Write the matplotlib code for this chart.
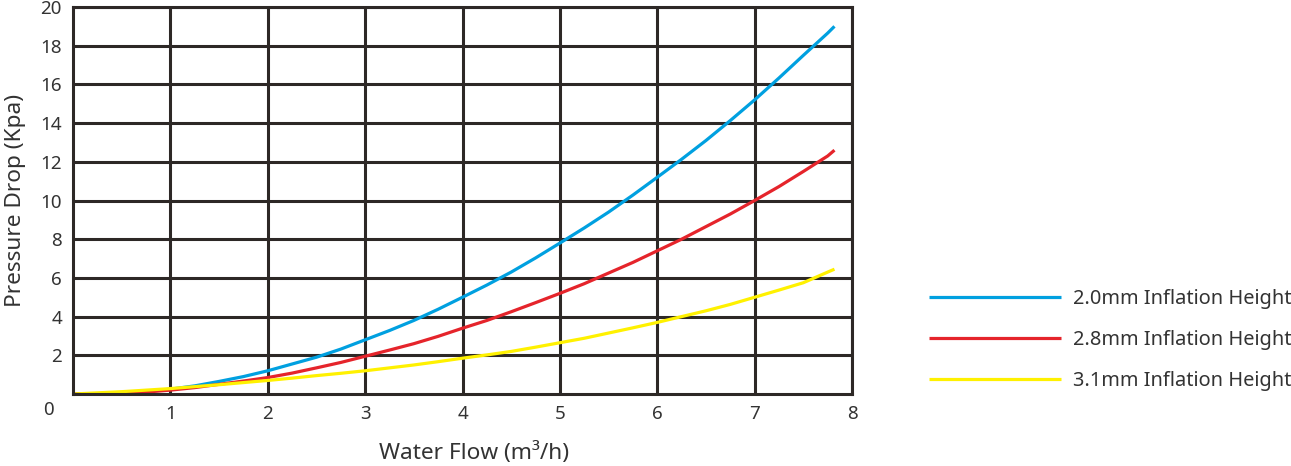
import matplotlib
matplotlib.use("Agg")
import matplotlib.pyplot as plt

flow = [0, 0.25, 0.5, 0.75, 1, 1.25, 1.5, 1.75, 2, 2.25, 2.5, 2.75, 3, 3.25, 3.5, 3.75,
        4, 4.25, 4.5, 4.75, 5, 5.25, 5.5, 5.75, 6, 6.25, 6.5, 6.75, 7, 7.25, 7.5, 7.75, 7.82]
drop_20 = [0, 0.01, 0.05, 0.13, 0.25, 0.42, 0.65, 0.9, 1.2, 1.55, 1.9, 2.32, 2.8, 3.28, 3.8, 4.38,
           5.0, 5.63, 6.3, 7.03, 7.8, 8.58, 9.4, 10.28, 11.2, 12.13, 13.1, 14.13, 15.2, 16.33, 17.5, 18.65, 19.0]
drop_28 = [0, 0.01, 0.03, 0.1, 0.2, 0.33, 0.5, 0.67, 0.85, 1.08, 1.35, 1.63, 1.95, 2.27, 2.6, 2.98,
           3.4, 3.8, 4.25, 4.72, 5.2, 5.7, 6.25, 6.8, 7.4, 8.0, 8.65, 9.3, 10.0, 10.72, 11.5, 12.3, 12.6]
drop_31 = [0, 0.06, 0.12, 0.2, 0.28, 0.38, 0.48, 0.59, 0.7, 0.82, 0.95, 1.07, 1.2, 1.35, 1.5, 1.67,
           1.85, 2.02, 2.2, 2.42, 2.65, 2.88, 3.15, 3.42, 3.7, 4.0, 4.3, 4.63, 5.0, 5.37, 5.75, 6.3, 6.45]
labels = ["2.0mm Inflation Height", "2.8mm Inflation Height", "3.1mm Inflation Height"]
colors = ["#00a0e0", "#e5242b", "#fff100"]
x_ticks = [1, 2, 3, 4, 5, 6, 7, 8]
y_ticks = [2, 4, 6, 8, 10, 12, 14, 16, 18, 20]

plt.rcParams['font.family'] = ['Noto Sans', 'DejaVu Sans']
txt = "#333333"
grid = "#2d2826"

fig = plt.figure(figsize=(12.91, 4.66), dpi=100)
ax = fig.add_axes([73/1291, 72/466, (852-73)/1291, (394-7)/466])
ax.set_xlim(0, 8)
ax.set_ylim(0, 20)
ax.set_xticks(x_ticks)
ax.set_yticks(y_ticks)
ax.grid(True, color=grid, linewidth=2.2)
ax.set_axisbelow(True)
for s in ax.spines.values():
    s.set_color(grid)
    s.set_linewidth(2.2)
ax.tick_params(length=0, labelsize=13.5, labelcolor=txt, pad=8)
ax.text(-0.2, -0.85, "0", fontsize=13.5, color=txt, ha="right", va="center")

for ys, lab, c in zip([drop_20, drop_28, drop_31], labels, colors):
    ax.plot(flow, ys, color=c, linewidth=2.3, label=lab, solid_capstyle="butt")

ax.set_xlabel("Water Flow (m³/h)", fontsize=16.3, color=txt, labelpad=12)
ax.xaxis.set_label_coords((474 - 73) / (852 - 73), -0.125)
ax.set_ylabel("Pressure Drop (Kpa)", fontsize=16.3, color=txt, labelpad=10)

fig.legend(loc="center left", bbox_to_anchor=(929/1291, 1 - 340/466), frameon=False,
           borderpad=0, borderaxespad=0,
           fontsize=14.4, labelcolor=txt, handlelength=6.6, handletextpad=0.6,
           labelspacing=1.06)

fig.savefig("out.png", dpi=100)
